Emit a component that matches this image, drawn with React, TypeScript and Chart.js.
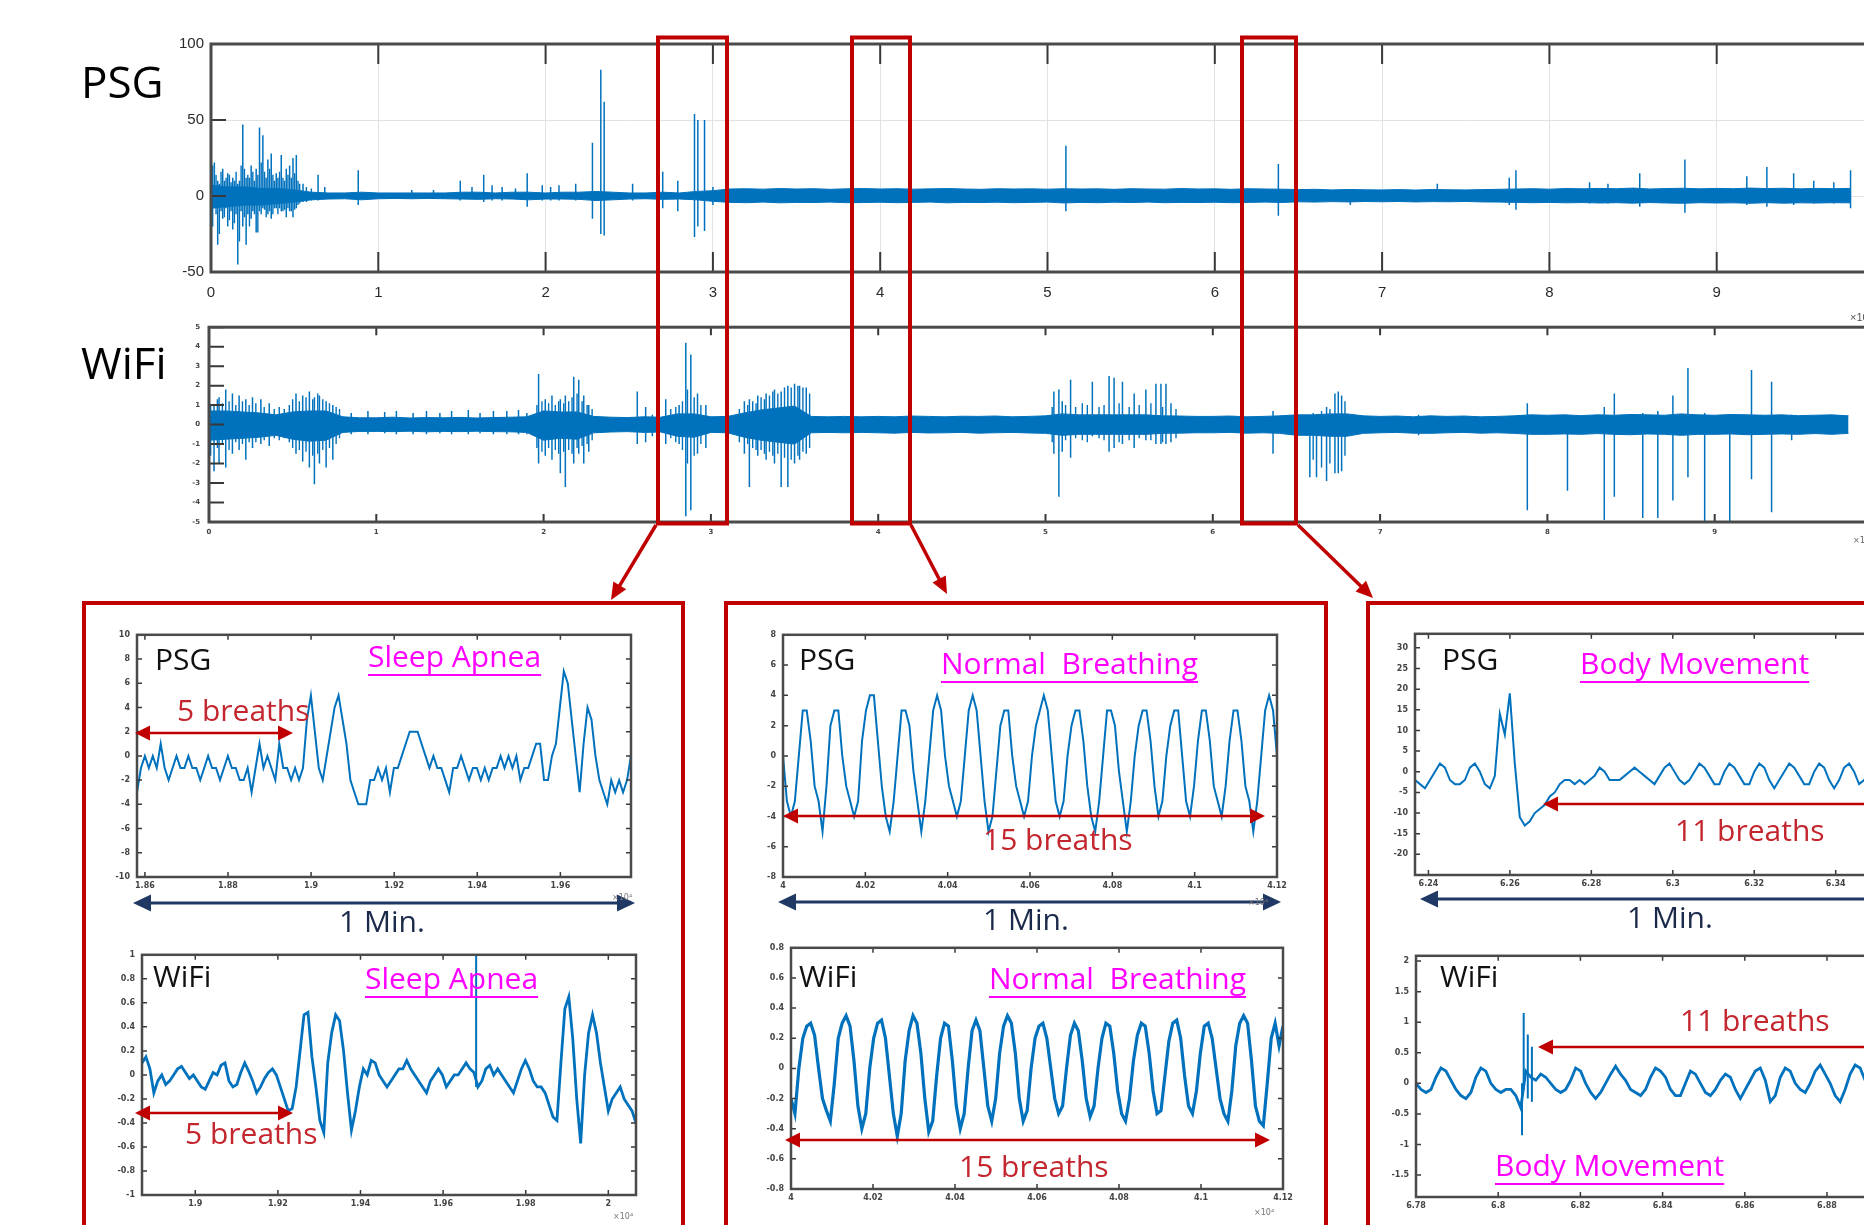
import React, { useEffect, useRef } from "react";
import { Chart, registerables } from "chart.js";

Chart.register(...registerables);

const BLUE = "#0072BD";
const MAG = "#FF00FF";
const RED = "#C00000";
const RED_T = "#C4262E";
const NAVY = "#1F3864";
const NAVY_T = "#1B2A4A";
const FONT_TEXT = "'Open Sans','Noto Sans',sans-serif";
const FONT_TICK = "'Liberation Sans','DejaVu Sans',sans-serif";
const FONT_SMALL = "'DejaVu Sans','Liberation Sans',sans-serif";

// ---------------- Overview: PSG ----------------
const topXTicks = [0, 1, 2, 3, 4, 5, 6, 7, 8, 9, 10];
const topXLabels = ["0", "1", "2", "3", "4", "5", "6", "7", "8", "9", "10"];
const psgYTicks = [-50, 0, 50, 100];
const psgYLabels = ["-50", "0", "50", "100"];
const bandStep = 0.1;
const psgBandHi = [
  7, 6, 6, 5, 5, 4, 2.5, 2, 2, 2.5,
  2, 2, 2, 2, 2, 2.5, 2.5, 2, 2.5, 2.5,
  2, 2.5, 2.5, 3, 2.5, 2, 2, 2.5, 2, 3,
  3.5, 4.6, 4.8, 4.5, 4.9, 4.6, 4.8, 4.4, 4.7, 4.9,
  4.6, 4.8, 4.5, 4.7, 4.9, 4.6, 4.4, 4.8, 4.6, 4.7,
  4.5, 4.8, 4.6, 4.7, 4.4, 4.8, 4.6, 4.5, 4.9, 4.6,
  4.7, 4.4, 4.8, 4.6, 4.5, 4.2, 4.4, 4.0, 4.3, 4.1,
  4.0, 4.2, 3.9, 4.3, 4.1, 4.0, 4.2, 4.4, 4.6, 4.8,
  4.5, 4.9, 4.7, 5.0, 4.8, 5.2, 4.6, 4.9, 5.1, 4.7,
  5.0, 4.8, 5.2, 4.9, 5.1, 4.7, 5.0, 4.8, 5.0,
];
const psgBandLo = [
  -8, -7, -6, -6, -5, -4, -2.5, -2, -1.8, -2.5,
  -1.8, -1.6, -1.8, -1.6, -1.8, -2, -2.2, -1.8, -2, -2.5,
  -2, -2, -2.2, -3, -2.5, -2, -1.8, -2.2, -2, -2.5,
  -3.5, -4.2, -4.4, -4.0, -4.5, -4.2, -4.3, -4.0, -4.4, -4.3,
  -4.1, -4.4, -4.2, -4.0, -4.5, -4.2, -4.3, -4.1, -4.4, -4.2,
  -4.0, -4.6, -4.2, -4.4, -4.1, -4.3, -4.0, -4.4, -4.2, -4.3,
  -4.1, -4.4, -4.2, -4.0, -4.3, -3.8, -4.0, -3.7, -3.9, -3.6,
  -3.8, -3.6, -3.9, -3.7, -3.8, -3.6, -3.9, -4.0, -4.2, -4.4,
  -4.2, -4.5, -4.3, -4.6, -4.4, -4.7, -4.3, -4.6, -4.8, -4.4,
  -4.6, -4.5, -4.8, -4.4, -4.7, -4.5, -4.6, -4.4, -4.5,
];
// dense burst at the start of the night
const psgBurstX = [
  0.01, 0.03, 0.05, 0.06, 0.08, 0.09, 0.11, 0.12, 0.14, 0.15,
  0.17, 0.18, 0.20, 0.22, 0.23, 0.25, 0.26, 0.28, 0.30, 0.32,
  0.33, 0.35, 0.37, 0.38, 0.40, 0.41, 0.43, 0.44, 0.46, 0.48,
  0.50, 0.52, 0.53, 0.57, 0.60,
];
const psgBurstLo = [
  -20, -12, -25, -10, -14, -8, -16, -10, -18, -12,
  -30, -10, -14, -12, -20, -10, -12, -24, -12, -9,
  -14, -10, -12, -8, -12, -8, -10, -9, -8, -10,
  -9, -6, -5, -4, -3,
];
const psgBurstHi = [
  20, 14, 8, 16, 10, 12, 14, 9, 10, 16,
  10, 20, 18, 14, 12, 16, 10, 14, 22, 16,
  12, 18, 14, 10, 12, 16, 12, 10, 14, 12,
  15, 10, 8, 6, 5,
];
const psgSpikeX = [
  0.02, 0.04, 0.07, 0.10, 0.13, 0.16, 0.19, 0.21, 0.24, 0.27,
  0.29, 0.31, 0.34, 0.36, 0.39, 0.42, 0.45, 0.47, 0.49, 0.51,
  0.55, 0.64, 0.68, 0.88, 1.20, 1.33, 1.49, 1.56, 1.63, 1.68,
  1.74, 1.82, 1.89, 1.98, 2.03, 2.08, 2.18, 2.28, 2.33, 2.35,
  2.52, 2.70, 2.79, 2.89, 2.91, 2.95, 3.00, 5.11, 6.38, 6.81,
  7.33, 7.76, 7.80, 8.24, 8.35, 8.54, 8.81, 9.18, 9.30, 9.46,
  9.58, 9.70, 9.80,
];
const psgSpikeLo = [
  -8, -32, -15, -20, -22, -45, -20, -32, -15, -24,
  -10, -8, -12, -15, -8, -10, -14, -10, -14, -8,
  -4, -3, -2, -6, -2, -2, -3, -2, -4, -3,
  -3, -2, -7, -3, -3, -3, -3, -15, -25, -26,
  -3, -8, -10, -27, -20, -23, -6, -10, -13, -6,
  -3, -6, -9, -5, -5, -7, -11, -6, -7, -6,
  -5, -5, -8,
];
const psgSpikeHi = [
  22, 10, 18, 15, 12, 8, 47, 12, 20, 18,
  45, 40, 24, 28, 15, 27, 18, 20, 25, 27,
  8, 14, 6, 17, 4, 4, 10, 6, 14, 7,
  6, 5, 15, 7, 6, 7, 8, 35, 83, 62,
  8, 16, 10, 54, 50, 50, 6, 33, 21, 4,
  8, 12, 17, 9, 8, 15, 24, 13, 19, 15,
  10, 9, 17,
];

// ---------------- Overview: WiFi ----------------
const wifiYTicks = [-5, -4, -3, -2, -1, 0, 1, 2, 3, 4, 5];
const wifiYLabels = ["-5", "-4", "-3", "-2", "-1", "0", "1", "2", "3", "4", "5"];
const wifiBandHi = [
  0.7, 0.7, 0.65, 0.6, 0.5, 0.65, 0.7, 0.7, 0.4, 0.35,
  0.35, 0.38, 0.34, 0.36, 0.35, 0.37, 0.34, 0.36, 0.38, 0.4,
  0.7, 0.65, 0.65, 0.42, 0.38, 0.36, 0.4, 0.38, 0.55, 0.55,
  0.4, 0.42, 0.6, 0.75, 0.85, 0.95, 0.42, 0.4, 0.42, 0.4,
  0.42, 0.4, 0.44, 0.42, 0.4, 0.43, 0.42, 0.44, 0.4, 0.42,
  0.45, 0.55, 0.5, 0.5, 0.5, 0.5, 0.5, 0.45, 0.44, 0.42,
  0.42, 0.44, 0.4, 0.42, 0.45, 0.5, 0.5, 0.55, 0.55, 0.45,
  0.42, 0.44, 0.4, 0.45, 0.42, 0.44, 0.4, 0.42, 0.45, 0.5,
  0.48, 0.5, 0.46, 0.5, 0.48, 0.52, 0.5, 0.48, 0.55, 0.5,
  0.48, 0.52, 0.5, 0.48, 0.5, 0.46, 0.48, 0.5, 0.45,
];
const wifiBandLo = [
  -0.8, -0.75, -0.7, -0.65, -0.55, -0.75, -0.85, -0.8, -0.4, -0.35,
  -0.35, -0.36, -0.34, -0.37, -0.35, -0.36, -0.34, -0.36, -0.37, -0.4,
  -0.8, -0.7, -0.75, -0.42, -0.38, -0.36, -0.4, -0.38, -0.6, -0.65,
  -0.4, -0.42, -0.65, -0.8, -0.9, -1.0, -0.42, -0.4, -0.42, -0.4,
  -0.42, -0.44, -0.4, -0.43, -0.42, -0.4, -0.44, -0.42, -0.4, -0.43,
  -0.45, -0.55, -0.5, -0.5, -0.5, -0.5, -0.5, -0.45, -0.44, -0.42,
  -0.42, -0.4, -0.44, -0.42, -0.45, -0.55, -0.55, -0.6, -0.6, -0.45,
  -0.42, -0.4, -0.44, -0.45, -0.42, -0.4, -0.44, -0.42, -0.45, -0.5,
  -0.5, -0.48, -0.5, -0.46, -0.5, -0.52, -0.48, -0.5, -0.55, -0.5,
  -0.5, -0.48, -0.52, -0.5, -0.48, -0.5, -0.46, -0.5, -0.45,
];
// bursts of movement (dense spikes)
const wifiBurstX = [
  0.01, 0.05, 0.08, 0.12, 0.16, 0.20, 0.24, 0.28, 0.33, 0.39,
  0.42, 0.45, 0.48, 0.50, 0.54, 0.58, 0.62, 0.65, 0.68, 0.72,
  0.76, 0.78,
  1.96, 1.99, 2.03, 2.07, 2.09, 2.12, 2.15, 2.17, 2.20, 2.23,
  2.26, 2.29,
  2.76, 2.79, 2.83, 2.86, 2.90, 2.94,
  3.17, 3.22, 3.25, 3.27, 3.30, 3.32, 3.35, 3.37, 3.40, 3.44,
  3.48, 3.52, 3.55, 3.59,
  5.04, 5.12, 5.18, 5.22, 5.25, 5.32, 5.35, 5.44, 5.50, 5.56,
  5.63, 5.70, 5.78,
  6.60, 6.65, 6.70, 6.79,
];
const wifiBurstLo = [
  -1.6, -1.2, -1.0, -1.3, -0.9, -1.0, -0.9, -0.9, -0.8, -0.7,
  -0.8, -0.7, -0.9, -1.2, -1.3, -1.4, -1.6, -1.5, -1.3, -1.2,
  -1.0, -0.7,
  -1.2, -1.4, -1.2, -1.3, -1.5, -1.4, -1.3, -1.5, -1.2, -1.1,
  -1.0, -0.8,
  -0.7, -0.9, -1.3, -2.0, -1.6, -1.0,
  -0.9, -1.0, -1.2, -1.3, -1.3, -1.5, -1.4, -1.6, -1.5, -1.7,
  -1.8, -1.6, -1.4, -1.2,
  -0.9, -0.8, -0.7, -0.8, -0.9, -0.7, -0.8, -0.9, -0.8, -0.7,
  -0.8, -0.9, -0.7,
  -1.8, -2.2, -2.0, -1.6,
];
const wifiBurstHi = [
  1.0, 1.3, 1.1, 1.2, 1.0, 1.2, 1.0, 1.1, 0.9, 0.8,
  0.9, 0.8, 1.0, 1.3, 1.2, 1.4, 1.3, 1.6, 1.3, 1.1,
  0.9, 0.8,
  1.0, 1.2, 1.1, 1.0, 1.2, 1.1, 1.2, 1.4, 1.6, 1.2,
  1.0, 0.8,
  0.8, 0.9, 1.2, 1.8, 1.4, 1.0,
  0.8, 1.0, 1.2, 1.1, 1.4, 1.3, 1.5, 1.7, 1.6, 1.9,
  1.9, 2.0, 1.9, 1.6,
  0.9, 1.0, 0.9, 1.1, 1.0, 0.9, 1.0, 1.1, 0.9, 1.0,
  1.1, 0.9, 0.8,
  0.6, 0.7, 0.8, 1.2,
];
const wifiSpikeX = [
  0.03, 0.06, 0.10, 0.14, 0.18, 0.22, 0.26, 0.31, 0.36, 0.52, 0.56, 0.60, 0.63, 0.66, 0.70, 0.74,
  0.85, 0.95, 1.05, 1.12, 1.22, 1.30, 1.38, 1.45, 1.55, 1.62, 1.70, 1.78, 1.85, 1.90,
  1.97, 2.01, 2.05, 2.10, 2.13, 2.18, 2.21, 2.24, 2.27,
  2.56, 2.61, 2.65,
  2.73, 2.81, 2.85, 2.88, 2.92, 2.97,
  3.20, 3.23, 3.28, 3.33, 3.38, 3.42, 3.46, 3.50, 3.53, 3.57,
  5.05, 5.08, 5.10, 5.15, 5.28, 5.38, 5.41, 5.46, 5.53, 5.60, 5.66, 5.69, 5.72, 5.75,
  6.36,
  6.58, 6.62, 6.68, 6.73, 6.75, 6.77,
  7.23,
  7.88, 8.12, 8.34, 8.40, 8.57, 8.66, 8.75, 8.84, 8.94, 9.09, 9.22, 9.34, 9.46,
];
const wifiSpikeLo = [
  -2.4, -2.0, -2.2, -1.5, -1.3, -1.8, -1.2, -1.0, -1.1, -1.5, -1.9, -2.2, -3.06, -2.0, -2.2, -1.8,
  -0.5, -0.5, -0.45, -0.5, -0.5, -0.5, -0.45, -0.5, -0.5, -0.45, -0.5, -0.5, -0.5, -0.5,
  -2.0, -1.6, -1.8, -2.5, -3.2, -2.0, -1.5, -2.0, -1.4,
  -1.0, -0.9, -0.6,
  -1.0, -1.0, -4.7, -4.4, -1.5, -1.2,
  -1.5, -3.2, -1.6, -1.8, -2.0, -3.2, -3.2, -2.0, -1.8, -1.5,
  -1.5, -3.7, -1.4, -1.7, -0.6, -1.4, -1.2, -1.0, -1.2, -0.8, -1.0, -1.0, -1.0, -0.9,
  -1.5,
  -2.7, -2.7, -2.9, -2.5, -2.5, -2.4,
  -0.55,
  -4.4, -3.4, -4.9, -3.7, -4.8, -4.8, -3.9, -2.7, -5.0, -5.0, -2.8, -4.5, -0.8,
];
const wifiSpikeHi = [
  0.95, 1.4, 1.8, 1.6, 1.5, 1.3, 1.4, 1.3, 1.1, 1.6, 1.5, 1.7, 1.4, 1.5, 1.2, 1.0,
  0.6, 0.7, 0.65, 0.7, 0.6, 0.7, 0.6, 0.7, 0.75, 0.6, 0.7, 0.7, 0.75, 0.6,
  2.6, 1.3, 1.5, 1.3, 1.5, 2.45, 2.3, 1.5, 1.0,
  1.7, 0.9, 0.5,
  1.3, 1.0, 4.2, 3.6, 1.6, 1.0,
  1.2, 1.3, 1.5, 1.6, 1.8, 1.7, 2.0, 2.1, 2.0, 1.9,
  1.7, 1.8, 1.2, 2.3, 2.2, 2.5, 2.4, 2.2, 1.6, 1.8, 2.1, 2.1, 2.1, 1.1,
  0.7,
  0.5, 0.5, 0.9, 1.6, 1.7, 1.5,
  0.5,
  1.1, 0.5, 0.9, 1.6, 0.6, 0.7, 1.5, 2.9, 0.6, 0.5, 2.8, 2.2, 0.5,
];

// ---------------- Panel 1: Sleep Apnea ----------------
const p1PsgRange = [1.8581, 1.977];
const p1PsgXTicks = [1.86, 1.88, 1.9, 1.92, 1.94, 1.96];
const p1PsgXLabels = ["1.86", "1.88", "1.9", "1.92", "1.94", "1.96"];
const p1PsgYTicks = [-10, -8, -6, -4, -2, 0, 2, 4, 6, 8, 10];
const p1PsgYLabels = ["-10", "-8", "-6", "-4", "-2", "0", "2", "4", "6", "8", "10"];
const p1PsgValues = [
  -3, -1, 0, -1, 0, -1, 1, -1, -2, -1,
  0, -1, -1, 0, -1, -1, -2, -1, 0, -1,
  -1, -2, -1, 0, -1, -1, -2, -2, -1, -3,
  -1, 1, -1, 0, -1, -2, 1, -1, -1, -2,
  -1, -2, -1, 3, 5, 2, -1, -2, 0, 2,
  4, 5, 3, 1, -2, -3, -4, -4, -4, -2,
  -2, -1, -2, -1, -3, -1, -1, 0, 1, 2,
  2, 2, 1, 0, -1, 0, -1, -1, -2, -3,
  -1, -1, 0, -1, -2, -1, -1, -2, -1, -2,
  -1, -1, 0, -1, 0, -1, 0, -2, -1, -1,
  0, 1, 1, -2, -2, 0, 1, 4, 7, 6,
  3, 0, -3, 1, 4, 3, 0, -2, -3, -4,
  -2, -3, -2, -3, -2, 0,
];
const p1WifiRange = [1.8871, 2.0067];
const p1WifiXTicks = [1.9, 1.92, 1.94, 1.96, 1.98, 2];
const p1WifiXLabels = ["1.9", "1.92", "1.94", "1.96", "1.98", "2"];
const p1WifiYTicks = [-1, -0.8, -0.6, -0.4, -0.2, 0, 0.2, 0.4, 0.6, 0.8, 1];
const p1WifiYLabels = ["-1", "-0.8", "-0.6", "-0.4", "-0.2", "0", "0.2", "0.4", "0.6", "0.8", "1"];
const p1WifiValues = [
  0.1, 0.15, 0.05, -0.15, -0.05, 0.0, -0.08, -0.05, 0.0, 0.05,
  0.07, 0.02, -0.03, 0.0, -0.05, -0.1, -0.12, -0.05, 0.02, 0.0,
  0.08, 0.1, -0.05, -0.1, -0.08, 0.02, 0.1, 0.03, -0.05, -0.15,
  -0.1, -0.03, 0.02, 0.05, 0.0, -0.1, -0.2, -0.3, -0.28, -0.1,
  0.2, 0.5, 0.52, 0.15, -0.1, -0.38, -0.48, 0.1, 0.35, 0.5,
  0.45, 0.2, -0.15, -0.46, -0.3, -0.1, 0.05, 0.0, 0.12, 0.1,
  0.0, -0.05, -0.1, -0.05, 0.0, 0.05, 0.05, 0.12, 0.05, 0.0,
  -0.05, -0.1, -0.15, -0.05, 0.0, 0.05, 0.0, -0.1, -0.05, 0.0,
  0.0, 0.05, 0.1, 0.05, 0.02, -0.1, -0.05, 0.05, 0.08, 0.0,
  0.05, 0.0, -0.05, -0.1, -0.15, -0.05, 0.05, 0.12, 0.05, -0.05,
  -0.1, -0.1, -0.15, -0.25, -0.35, -0.38, 0.1, 0.55, 0.65, 0.3,
  -0.2, -0.57, 0.0, 0.35, 0.5, 0.35, 0.1, -0.1, -0.3, -0.2,
  -0.15, -0.1, -0.2, -0.25, -0.3, -0.4,
];
const p1WifiSpikeX = [1.968];
const p1WifiSpikeLo = [-0.1];
const p1WifiSpikeHi = [1.0];

// ---------------- Panel 2: Normal Breathing ----------------
const p2Range = [4, 4.12];
const p2XTicks = [4, 4.02, 4.04, 4.06, 4.08, 4.1, 4.12];
const p2XLabels = ["4", "4.02", "4.04", "4.06", "4.08", "4.1", "4.12"];
const p2PsgYTicks = [-8, -6, -4, -2, 0, 2, 4, 6, 8];
const p2PsgYLabels = ["-8", "-6", "-4", "-2", "0", "2", "4", "6", "8"];
const p2PsgValues = [
  0, -3, -4, -3, 0, 3, 3, 1, -2, -3,
  -5, -2, 2, 3, 3, 0, -2, -3, -4, -3,
  1, 3, 4, 4, 1, -2, -4, -5, -3, 0,
  3, 3, 2, -1, -3, -5, -3, 0, 3, 4,
  3, 0, -2, -3, -4, -3, 0, 3, 4, 3,
  0, -3, -5, -4, -1, 2, 3, 3, 0, -2,
  -3, -4, -3, 0, 2, 3, 4, 3, 0, -3,
  -4, -3, 0, 2, 3, 3, 1, -2, -4, -5,
  -3, 0, 3, 3, 2, -1, -3, -5, -3, 0,
  2, 3, 3, 1, -2, -4, -3, 0, 2, 3,
  3, 0, -3, -4, -2, 1, 3, 3, 1, -2,
  -3, -4, -2, 1, 3, 3, 1, -2, -3, -5,
  -3, 0, 3, 4, 3, 0,
];
const p2WifiYTicks = [-0.8, -0.6, -0.4, -0.2, 0, 0.2, 0.4, 0.6, 0.8];
const p2WifiYLabels = ["-0.8", "-0.6", "-0.4", "-0.2", "0", "0.2", "0.4", "0.6", "0.8"];
const p2WifiValues = [
  -0.2, -0.3, 0.0, 0.2, 0.28, 0.3, 0.22, 0.0, -0.2, -0.28,
  -0.35, -0.1, 0.2, 0.3, 0.35, 0.28, 0.05, -0.25, -0.4, -0.3,
  0.0, 0.2, 0.3, 0.32, 0.2, -0.05, -0.3, -0.45, -0.3, 0.05,
  0.25, 0.35, 0.3, 0.1, -0.2, -0.42, -0.35, -0.05, 0.2, 0.3,
  0.28, 0.05, -0.25, -0.4, -0.3, 0.0, 0.25, 0.32, 0.25, 0.0,
  -0.25, -0.35, -0.2, 0.1, 0.28, 0.35, 0.3, 0.1, -0.2, -0.35,
  -0.28, 0.0, 0.2, 0.28, 0.3, 0.2, 0.0, -0.2, -0.3, -0.25,
  0.0, 0.22, 0.3, 0.25, 0.05, -0.2, -0.32, -0.25, 0.0, 0.2,
  0.3, 0.28, 0.1, -0.15, -0.3, -0.35, -0.2, 0.05, 0.22, 0.3,
  0.28, 0.1, -0.15, -0.3, -0.28, -0.05, 0.18, 0.3, 0.32, 0.2,
  -0.05, -0.25, -0.3, -0.15, 0.1, 0.28, 0.3, 0.2, 0.0, -0.2,
  -0.3, -0.35, -0.15, 0.15, 0.3, 0.35, 0.3, 0.05, -0.25, -0.35,
  -0.38, -0.1, 0.2, 0.3, 0.15, 0.28,
];

// ---------------- Panel 3: Body Movement ----------------
const p3PsgRange = [6.2367, 6.358];
const p3PsgXTicks = [6.24, 6.26, 6.28, 6.3, 6.32, 6.34];
const p3PsgXLabels = ["6.24", "6.26", "6.28", "6.3", "6.32", "6.34"];
const p3PsgYTicks = [-20, -15, -10, -5, 0, 5, 10, 15, 20, 25, 30];
const p3PsgYLabels = ["-20", "-15", "-10", "-5", "0", "5", "10", "15", "20", "25", "30"];
const p3PsgValues = [
  -2, -3, -4, -2, 0, 2, 1, -2, -3, -3,
  -2, 1, 2, 0, -3, -4, -1, 14, 9, 19,
  2, -11, -13, -12, -10, -9, -8, -6, -5, -3,
  -2, -2, -3, -2, -3, -2, -1, 1, 0, -2,
  -2, -2, -1, 0, 1, 0, -1, -2, -3, -1,
  1, 2, 0, -2, -3, -2, 0, 2, 1, -1,
  -3, -3, 0, 2, 1, -1, -3, -3, 0, 2,
  1, -2, -4, -2, 0, 2, 1, -1, -3, -3,
  0, 2, 1, -2, -4, -2, 1, 2, 0, -3,
  -2, 0, 2, 1, -1, -3, -2, 0, 2, 1,
];
const p3WifiRange = [6.78, 6.9002];
const p3WifiXTicks = [6.78, 6.8, 6.82, 6.84, 6.86, 6.88];
const p3WifiXLabels = ["6.78", "6.8", "6.82", "6.84", "6.86", "6.88"];
const p3WifiYTicks = [-1.5, -1, -0.5, 0, 0.5, 1, 1.5, 2];
const p3WifiYLabels = ["-1.5", "-1", "-0.5", "0", "0.5", "1", "1.5", "2"];
const p3WifiValues = [
  0.0, -0.1, -0.15, -0.1, 0.1, 0.25, 0.2, 0.05, -0.1, -0.2,
  -0.25, -0.15, 0.1, 0.25, 0.2, 0.0, -0.1, -0.15, -0.1, -0.1,
  -0.2, -0.4, 0.2, 0.1, 0.05, 0.15, 0.1, 0.0, -0.1, -0.15,
  -0.1, 0.05, 0.25, 0.2, 0.0, -0.15, -0.25, -0.15, 0.0, 0.15,
  0.28, 0.15, 0.05, -0.1, -0.15, -0.2, -0.1, 0.1, 0.25, 0.2,
  0.1, -0.1, -0.2, -0.2, 0.0, 0.2, 0.15, 0.0, -0.15, -0.2,
  -0.1, 0.05, 0.15, 0.1, -0.1, -0.25, -0.1, 0.05, 0.2, 0.25,
  0.05, -0.3, -0.2, 0.1, 0.25, 0.2, 0.0, -0.1, -0.15, 0.0,
  0.2, 0.3, 0.15, 0.0, -0.2, -0.3, -0.1, 0.15, 0.3, 0.25,
  0.05, -0.15, -0.25, -0.1, 0.1, 0.25, 0.2, 0.0, -0.2, -0.25,
];
const p3WifiSpikeX = [6.8058, 6.8062, 6.8072, 6.8082];
const p3WifiSpikeLo = [-0.85, -0.1, -0.25, -0.3];
const p3WifiSpikeHi = [0.0, 1.15, 0.8, 0.6];

// ---------------- helpers to build library tables ----------------
function trace(range: number[], vals: number[]) {
  const n = vals.length;
  return vals.map((v, i) => ({ x: range[0] + ((range[1] - range[0]) * i) / (n - 1), y: v }));
}
function band(vals: number[]) {
  return vals.map((v, i) => ({ x: i * bandStep, y: v }));
}
function spikes(xs: number[], lo: number[], hi: number[]) {
  const out: any[] = [];
  xs.forEach((x, i) => {
    out.push({ x, y: lo[i] }, { x, y: hi[i] }, { x, y: null });
  });
  return out;
}
function lineDs(data: any[], w: number, extra: any = {}) {
  return {
    data,
    borderColor: BLUE,
    backgroundColor: BLUE,
    borderWidth: w,
    pointRadius: 0,
    tension: 0,
    fill: false,
    spanGaps: false,
    ...extra,
  };
}

type Spec = {
  key: string;
  area: number[];
  pad: number[];
  xr: number[];
  yr: number[];
  xTicks: number[];
  xLabels: string[];
  yTicks: number[];
  yLabels: string[];
  tickFont: any;
  tickColor: string;
  xPad: number;
  yPad: number;
  grid: boolean;
  tlx: number;
  tly: number;
  box: number;
  tickW: number;
  datasets: any[];
};

function axesPlugin(spec: Spec) {
  return {
    id: "matlabAxes",
    afterDatasetsDraw(chart: any) {
      const { ctx, chartArea: a } = chart;
      const xs = chart.scales.x;
      const ys = chart.scales.y;
      ctx.save();
      ctx.strokeStyle = "#383838";
      ctx.lineWidth = spec.tickW;
      ctx.beginPath();
      spec.xTicks.forEach((v) => {
        const p = xs.getPixelForValue(v);
        ctx.moveTo(p, a.bottom);
        ctx.lineTo(p, a.bottom - spec.tlx);
        ctx.moveTo(p, a.top);
        ctx.lineTo(p, a.top + spec.tlx);
      });
      spec.yTicks.forEach((v) => {
        const p = ys.getPixelForValue(v);
        ctx.moveTo(a.left, p);
        ctx.lineTo(a.left + spec.tly, p);
        ctx.moveTo(a.right, p);
        ctx.lineTo(a.right - spec.tly, p);
      });
      ctx.stroke();
      ctx.lineWidth = spec.box;
      ctx.strokeStyle = "#4a4a4a";
      ctx.strokeRect(a.left, a.top, a.right - a.left, a.bottom - a.top);
      ctx.restore();
    },
  };
}

function ChartBox({ spec }: { spec: Spec }) {
  const ref = useRef<HTMLCanvasElement>(null);
  const [l, t, r, b] = spec.area;
  const [pl, pt, pr, pb] = spec.pad;
  const W = r - l + pl + pr;
  const H = b - t + pt + pb;
  useEffect(() => {
    const chart = new Chart(ref.current as HTMLCanvasElement, {
      type: "line",
      data: { datasets: spec.datasets },
      options: {
        responsive: false,
        animation: false,
        devicePixelRatio: 1,
        events: [],
        layout: { padding: { left: 0, top: pt, right: pr, bottom: 0 } },
        plugins: { legend: { display: false }, tooltip: { enabled: false } },
        scales: {
          x: {
            type: "linear",
            min: spec.xr[0],
            max: spec.xr[1],
            bounds: "data",
            offset: false,
            afterBuildTicks: (s: any) => {
              s.ticks = spec.xTicks.map((v) => ({ value: v }));
            },
            afterFit: (s: any) => {
              s.height = pb;
            },
            ticks: {
              autoSkip: false,
              maxRotation: 0,
              minRotation: 0,
              padding: spec.xPad,
              font: spec.tickFont,
              color: spec.tickColor,
              callback: (_v: any, i: number) => spec.xLabels[i],
            },
            grid: { display: spec.grid, color: "#e2e2e2", lineWidth: 1, drawTicks: false },
            border: { display: false },
          },
          y: {
            type: "linear",
            min: spec.yr[0],
            max: spec.yr[1],
            bounds: "data",
            afterBuildTicks: (s: any) => {
              s.ticks = spec.yTicks.map((v) => ({ value: v }));
            },
            afterFit: (s: any) => {
              s.width = pl;
            },
            ticks: {
              autoSkip: false,
              padding: spec.yPad,
              font: spec.tickFont,
              color: spec.tickColor,
              callback: (_v: any, i: number) => spec.yLabels[i],
            },
            grid: { display: spec.grid, color: "#e2e2e2", lineWidth: 1, drawTicks: false },
            border: { display: false },
          },
        },
      } as any,
      plugins: [axesPlugin(spec)],
    });
    return () => chart.destroy();
  }, []);
  return (
    <canvas
      ref={ref}
      width={W}
      height={H}
      style={{ position: "absolute", left: l - pl, top: t - pt, width: W, height: H }}
    />
  );
}

const bigTick = { family: FONT_TICK, size: 15 };
const tinyTick = { family: FONT_SMALL, size: 7, weight: "bold" };
const smallTick = { family: FONT_SMALL, size: 8, weight: "bold" };

function smallSpec(key: string, area: number[], xr: number[], yr: number[], xT: number[], xL: string[], yT: number[], yL: string[], datasets: any[]): Spec {
  return {
    key,
    area,
    pad: [34, 10, 16, 18],
    xr,
    yr,
    xTicks: xT,
    xLabels: xL,
    yTicks: yT,
    yLabels: yL,
    tickFont: smallTick,
    tickColor: "#444",
    xPad: 4,
    yPad: 7,
    grid: false,
    tlx: 5,
    tly: 5,
    box: 2.5,
    tickW: 1.5,
    datasets,
  };
}

const specs: Spec[] = [
  {
    key: "psgTop",
    area: [211, 42, 1884, 272],
    pad: [60, 14, 24, 34],
    xr: [0, 10],
    yr: [-50, 100],
    xTicks: topXTicks,
    xLabels: topXLabels,
    yTicks: psgYTicks,
    yLabels: psgYLabels,
    tickFont: bigTick,
    tickColor: "#2b2b2b",
    xPad: 12,
    yPad: 7,
    grid: true,
    tlx: 20,
    tly: 15,
    box: 3,
    tickW: 2,
    datasets: [
      lineDs(band(psgBandHi), 1),
      lineDs(band(psgBandLo), 1, { fill: "-1" }),
      lineDs(spikes(psgBurstX, psgBurstLo, psgBurstHi), 1.4),
      lineDs(spikes(psgSpikeX, psgSpikeLo, psgSpikeHi), 1.5),
    ],
  },
  {
    key: "wifiTop",
    area: [209, 324, 1882, 522],
    pad: [40, 10, 24, 20],
    xr: [0, 10],
    yr: [-5, 5],
    xTicks: topXTicks,
    xLabels: topXLabels,
    yTicks: wifiYTicks,
    yLabels: wifiYLabels,
    tickFont: tinyTick,
    tickColor: "#444",
    xPad: 6,
    yPad: 9,
    grid: false,
    tlx: 8,
    tly: 15,
    box: 3,
    tickW: 2,
    datasets: [
      lineDs(band(wifiBandHi), 1),
      lineDs(band(wifiBandLo), 1, { fill: "-1" }),
      lineDs(spikes(wifiBurstX, wifiBurstLo, wifiBurstHi), 1.4),
      lineDs(spikes(wifiSpikeX, wifiSpikeLo, wifiSpikeHi), 1.5),
    ],
  },
  smallSpec("p1psg", [137, 633, 631, 877], p1PsgRange, [-10, 10], p1PsgXTicks, p1PsgXLabels, p1PsgYTicks, p1PsgYLabels, [
    lineDs(trace(p1PsgRange, p1PsgValues), 2),
  ]),
  smallSpec("p1wifi", [142, 953, 636, 1195], p1WifiRange, [-1, 1], p1WifiXTicks, p1WifiXLabels, p1WifiYTicks, p1WifiYLabels, [
    lineDs(trace(p1WifiRange, p1WifiValues), 2.8),
    lineDs(spikes(p1WifiSpikeX, p1WifiSpikeLo, p1WifiSpikeHi), 2),
  ]),
  smallSpec("p2psg", [783, 633, 1277, 877], p2Range, [-8, 8], p2XTicks, p2XLabels, p2PsgYTicks, p2PsgYLabels, [
    lineDs(trace(p2Range, p2PsgValues), 2),
  ]),
  smallSpec("p2wifi", [791, 946, 1283, 1189], p2Range, [-0.8, 0.8], p2XTicks, p2XLabels, p2WifiYTicks, p2WifiYLabels, [
    lineDs(trace(p2Range, p2WifiValues), 3.2),
  ]),
  smallSpec("p3psg", [1415, 632, 1909, 875], p3PsgRange, [-25, 33.4], p3PsgXTicks, p3PsgXLabels, p3PsgYTicks, p3PsgYLabels, [
    lineDs(trace(p3PsgRange, p3PsgValues), 2),
  ]),
  smallSpec("p3wifi", [1416, 954, 1910, 1197], p3WifiRange, [-1.86, 2.087], p3WifiXTicks, p3WifiXLabels, p3WifiYTicks, p3WifiYLabels, [
    lineDs(trace(p3WifiRange, p3WifiValues), 2.8),
    lineDs(spikes(p3WifiSpikeX, p3WifiSpikeLo, p3WifiSpikeHi), 2),
  ]),
];

// ---------------- overlay ----------------
function head(tx: number, ty: number, dx: number, dy: number, len: number, wid: number, color: string, k: string) {
  const bx = tx - dx * len;
  const by = ty - dy * len;
  const px = -dy;
  const py = dx;
  return (
    <polygon
      key={k}
      points={`${tx},${ty} ${bx + (px * wid) / 2},${by + (py * wid) / 2} ${bx - (px * wid) / 2},${by - (py * wid) / 2}`}
      fill={color}
    />
  );
}
function Arrow(p: { x1: number; y1: number; x2: number; y2: number; color: string; w: number; len: number; wid: number; both?: boolean }) {
  const L = Math.hypot(p.x2 - p.x1, p.y2 - p.y1);
  const dx = (p.x2 - p.x1) / L;
  const dy = (p.y2 - p.y1) / L;
  const s = p.both ? p.len * 0.8 : 0;
  return (
    <g>
      <line
        x1={p.x1 + dx * s}
        y1={p.y1 + dy * s}
        x2={p.x2 - dx * p.len * 0.8}
        y2={p.y2 - dy * p.len * 0.8}
        stroke={p.color}
        strokeWidth={p.w}
      />
      {head(p.x2, p.y2, dx, dy, p.len, p.wid, p.color, "a")}
      {p.both ? head(p.x1, p.y1, -dx, -dy, p.len, p.wid, p.color, "b") : null}
    </g>
  );
}

type T = { t: string; x: number; y: number; s: number; c: string; u?: boolean; f?: string };
const texts: T[] = [
  { t: "PSG", x: 81, y: 82, s: 44, c: "#000" },
  { t: "WiFi", x: 81, y: 363, s: 44, c: "#000" },
  { t: "PSG", x: 155, y: 660, s: 30, c: "#111" },
  { t: "Sleep Apnea", x: 368, y: 657, s: 30, c: MAG, u: true },
  { t: "5 breaths", x: 177, y: 711, s: 30, c: RED_T },
  { t: "1 Min.", x: 339, y: 922, s: 30, c: NAVY_T },
  { t: "WiFi", x: 153, y: 977, s: 30, c: "#111" },
  { t: "Sleep Apnea", x: 365, y: 979, s: 30, c: MAG, u: true },
  { t: "5 breaths", x: 185, y: 1134, s: 30, c: RED_T },
  { t: "PSG", x: 799, y: 660, s: 30, c: "#111" },
  { t: "Normal  Breathing", x: 941, y: 664, s: 30, c: MAG, u: true },
  { t: "15 breaths", x: 983, y: 840, s: 30, c: RED_T },
  { t: "1 Min.", x: 983, y: 920, s: 30, c: NAVY_T },
  { t: "WiFi", x: 799, y: 977, s: 30, c: "#111" },
  { t: "Normal  Breathing", x: 989, y: 979, s: 30, c: MAG, u: true },
  { t: "15 breaths", x: 959, y: 1167, s: 30, c: RED_T },
  { t: "PSG", x: 1442, y: 660, s: 30, c: "#111" },
  { t: "Body Movement", x: 1580, y: 664, s: 30, c: MAG, u: true },
  { t: "11 breaths", x: 1675, y: 831, s: 30, c: RED_T },
  { t: "1 Min.", x: 1627, y: 918, s: 30, c: NAVY_T },
  { t: "WiFi", x: 1440, y: 977, s: 30, c: "#111" },
  { t: "11 breaths", x: 1680, y: 1021, s: 30, c: RED_T },
  { t: "Body Movement", x: 1495, y: 1166, s: 30, c: MAG, u: true },
  { t: "×10⁴", x: 1850, y: 318, s: 11, c: "#555", f: FONT_TICK },
  { t: "×10⁴", x: 1853, y: 541, s: 8, c: "#666", f: FONT_SMALL },
  { t: "×10⁴", x: 612, y: 898, s: 8, c: "#777", f: FONT_SMALL },
  { t: "×10⁴", x: 613, y: 1217, s: 8, c: "#777", f: FONT_SMALL },
  { t: "×10⁴", x: 1248, y: 903, s: 8, c: "#777", f: FONT_SMALL },
  { t: "×10⁴", x: 1254, y: 1213, s: 8, c: "#777", f: FONT_SMALL },
];

export default function App() {
  useEffect(() => {
    document.body.style.margin = "0";
    document.body.style.overflow = "hidden";
  }, []);
  return (
    <div
      style={{
        position: "fixed",
        left: 0,
        top: 0,
        width: 1864,
        height: 1225,
        overflow: "hidden",
        background: "#fff",
      }}
    >
      {specs.map((s) => (
        <ChartBox key={s.key} spec={s} />
      ))}
      <svg width={1864} height={1225} style={{ position: "absolute", left: 0, top: 0, pointerEvents: "none" }}>
        <g fill="none" stroke={RED} strokeWidth={4}>
          <rect x={658} y={37.5} width={69} height={486} />
          <rect x={852} y={37.5} width={58} height={486} />
          <rect x={1242} y={37.5} width={54} height={486} />
          <rect x={84} y={603} width={599} height={700} />
          <rect x={726} y={603} width={600} height={700} />
          <rect x={1368} y={603} width={600} height={700} />
        </g>
        <Arrow x1={656} y1={525} x2={611} y2={600} color={RED} w={3.5} len={17} wid={15} />
        <Arrow x1={911} y1={525} x2={947} y2={594} color={RED} w={3.5} len={17} wid={15} />
        <Arrow x1={1298} y1={525} x2={1373} y2={598} color={RED} w={3.5} len={17} wid={15} />

        <Arrow x1={135} y1={733} x2={293} y2={733} color={RED} w={2.5} len={15} wid={15} both />
        <Arrow x1={135} y1={1113} x2={293} y2={1113} color={RED} w={2.5} len={15} wid={15} both />
        <Arrow x1={783} y1={816} x2={1265} y2={816} color={RED} w={2.5} len={15} wid={15} both />
        <Arrow x1={785} y1={1140} x2={1270} y2={1140} color={RED} w={2.5} len={15} wid={15} both />
        <Arrow x1={1880} y1={804} x2={1543} y2={804} color={RED} w={2.5} len={15} wid={15} />
        <Arrow x1={1880} y1={1047} x2={1538} y2={1047} color={RED} w={2.5} len={15} wid={15} />

        <Arrow x1={133} y1={903} x2={635} y2={903} color={NAVY} w={3} len={18} wid={17} both />
        <Arrow x1={778} y1={902} x2={1281} y2={902} color={NAVY} w={3} len={18} wid={17} both />
        <Arrow x1={1880} y1={899} x2={1420} y2={899} color={NAVY} w={3} len={18} wid={17} />
      </svg>
      {texts.map((d, i) => (
        <div
          key={i}
          style={{
            position: "absolute",
            left: d.x,
            top: d.y - d.s * 0.53,
            fontSize: d.s,
            lineHeight: `${d.s}px`,
            fontFamily: d.f || FONT_TEXT,
            color: d.c,
            whiteSpace: "pre",
            textDecoration: d.u ? "underline" : "none",
            textUnderlineOffset: "7px",
            textDecorationThickness: "2px",
          }}
        >
          {d.t}
        </div>
      ))}
    </div>
  );
}
